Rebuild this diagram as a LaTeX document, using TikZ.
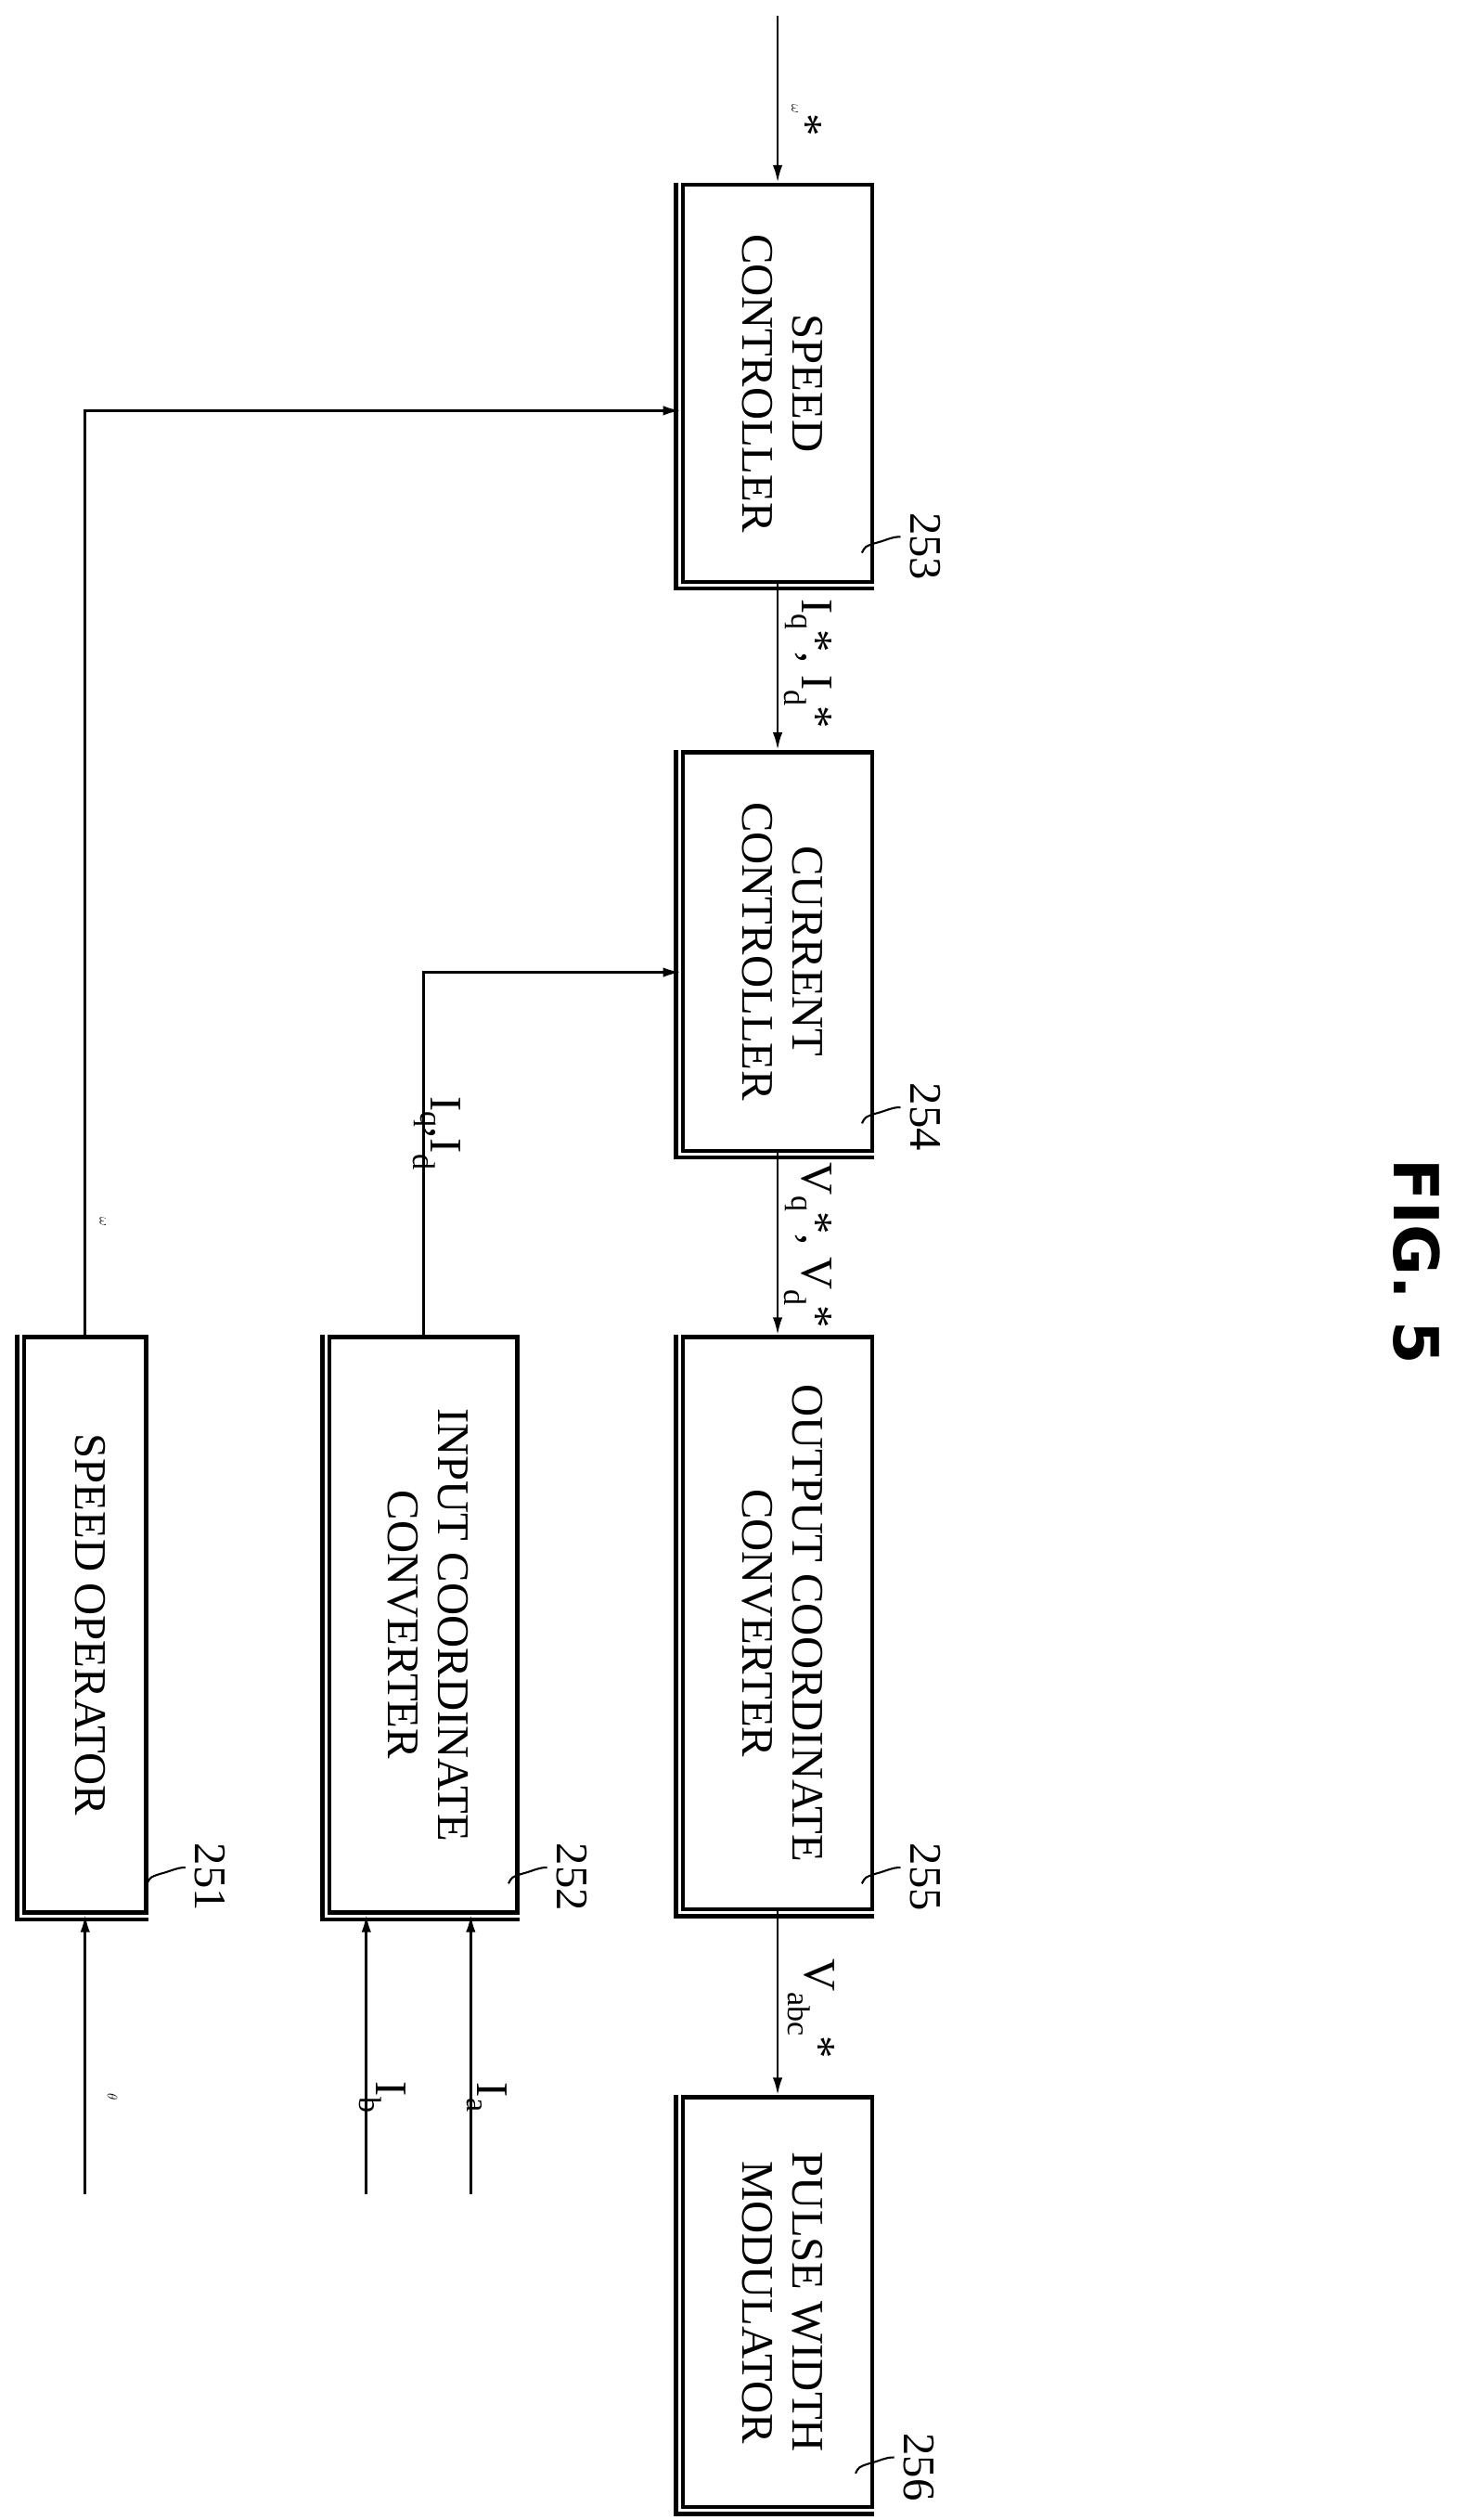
\documentclass[tikz,border=0pt]{standalone}
\usepackage{fontspec}
\setmainfont{Liberation Serif}
\newfontfamily\figfont{DejaVu Sans}
\usetikzlibrary{arrows.meta,calc}
\begin{document}
\begin{tikzpicture}[x=1mm,y=-1mm,
  blk/.style={draw,line width=2.5mm,inner sep=0pt,font=\fontsize{80}{88}\selectfont,align=center},
  conn/.style={line width=1.6mm,-{Latex[length=11mm,width=6mm]}},
  plain/.style={line width=1.6mm},
  lbl/.style={font=\fontsize{80}{88}\selectfont,inner sep=0pt},
  lead/.style={line width=1.2mm}]
\useasboundingbox (0,0) rectangle (921,1568);
\newcommand{\rt}[1]{\rotatebox{-90}{\begin{tabular}{c}#1\end{tabular}}}
\node[blk,minimum width=118mm,minimum height=247mm] (sc) at (484,238.5) {\rt{SPEED\\CONTROLLER}};
\node[blk,minimum width=118mm,minimum height=248mm] (cc) at (484,592) {\rt{CURRENT\\CONTROLLER}};
\node[blk,minimum width=118mm,minimum height=356mm] (oc) at (484,1010) {\rt{OUTPUT COORDINATE\\CONVERTER}};
\node[blk,minimum width=118mm,minimum height=255mm] (pw) at (484,1432.5) {\rt{PULSE WIDTH\\MODULATOR}};
\node[blk,minimum width=117mm,minimum height=358mm] (ic) at (263.5,1011) {\rt{INPUT COORDINATE\\CONVERTER}};
\node[blk,minimum width=76mm,minimum height=358mm] (so) at (53,1011) {\rt{SPEED OPERATOR}};
\foreach \b in {sc,cc,oc,pw,ic,so}{
  \draw[line width=2.5mm] ($(\b.north west)+(-3,0)$) -- ($(\b.south west)+(-3,3)$) -- ($(\b.south east)+(0,3)$);
}
\coordinate (top) at (484,10);
\coordinate (ia) at (293,1365);
\coordinate (ib) at (228,1365);
\coordinate (th) at (53,1365);
\draw[conn] (top) -- (sc.north);
\draw[conn] (sc.south) -- (cc.north);
\draw[conn] (cc.south) -- (oc.north);
\draw[conn] (oc.south) -- (pw.north);
\draw[conn] (so.north) |- ($(sc.west)+(0,17)$);
\draw[conn] (ic.north) |- ($(cc.west)+(0,13)$);
\draw[conn] (ia) -- (ia |- ic.south);
\draw[conn] (ib) -- (ib |- ic.south);
\draw[conn] (th) -- (th |- so.south);
% labels
\node[lbl,rotate=-90] (l1) at (502,75) {$\omega$*};
\node[lbl,rotate=-90] (l2) at (503,413) {I$_{\mathrm q}$*, I$_{\mathrm d}$*};
\node[lbl,rotate=-90] (l3) at (503,775) {V$_{\mathrm q}$*, V$_{\mathrm d}$*};
\node[lbl,rotate=-90] (l4) at (505,1250) {V$_{\mathrm{abc}}$*};
\node[lbl,rotate=-90] (l5) at (64,760) {$\omega$};
\node[lbl,rotate=-90] (l6) at (272,705) {I$_{\mathrm q}$,I$_{\mathrm d}$};
\node[lbl,rotate=-90] (l7) at (303,1305) {I$_{\mathrm a}$};
\node[lbl,rotate=-90] (l8) at (238,1305) {I$_{\mathrm b}$};
\node[lbl,rotate=-90] (l9) at (70,1305) {$\theta$};
\node[lbl,rotate=-90] (n253) at (576,340) {253};
\node[lbl,rotate=-90] (n254) at (576,695) {254};
\node[lbl,rotate=-90] (n255) at (576,1168) {255};
\node[lbl,rotate=-90] (n256) at (572,1535) {256};
\node[lbl,rotate=-90] (n252) at (356,1168) {252};
\node[lbl,rotate=-90] (n251) at (131,1168) {251};
\foreach \n in {n253,n254,n255,n256,n252,n251}{
  \draw[lead] ($(\n.south)+(-6,-6)$) .. controls +(-6,0) and +(8,-2) .. ++(-16,4) .. controls +(-6,2) .. ++(-8,6);
}
\node[rotate=-90,font=\figfont\bfseries\fontsize{110}{120}\selectfont] (fig) at (882,785) {FIG. 5};
\end{tikzpicture}
\end{document}
